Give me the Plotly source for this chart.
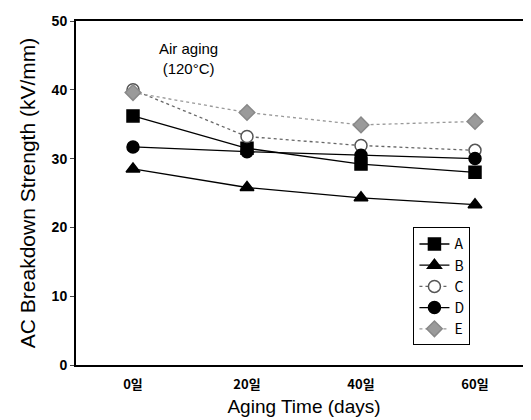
import plotly.graph_objects as go

categories = ["0일", "20일", "40일", "60일"]
series_A = [36.2, 31.5, 29.2, 28.0]
series_B = [28.5, 25.8, 24.3, 23.3]
series_C = [40.0, 33.2, 31.9, 31.2]
series_D = [31.7, 31.0, 30.5, 30.0]
series_E = [39.6, 36.7, 34.9, 35.4]
y_ticks = [0, 10, 20, 30, 40, 50]

fig = go.Figure()
def add(name, y, symbol, mcolor, lcolor, dash, lw, mfill=None, msize=12):
    fig.add_trace(go.Scatter(
        x=categories, y=y, name=name, mode="lines+markers",
        line=dict(color=lcolor, width=lw, dash=dash),
        marker=dict(symbol=symbol, size=msize, color=mfill if mfill else mcolor,
                    line=dict(color=mcolor, width=1.5)),
    ))

add("A", series_A, "square", "black", "black", "solid", 1.3)
add("B", series_B, "triangle-up", "black", "black", "solid", 1.3)
add("C", series_C, "circle", "#555555", "#666666", "dot", 1.3, mfill="white")
add("D", series_D, "circle", "black", "black", "solid", 1.3)
add("E", series_E, "diamond", "#888888", "#999999", "dot", 1.3, mfill="#9a9a9a")

fig.add_annotation(x=0.49, y=44.6, xref="x", yref="y", text="Air aging<br>(120°C)",
                   showarrow=False, font=dict(family="Liberation Sans Narrow, Arial", size=15, color="black"))

fig.update_layout(
    width=531, height=420,
    margin=dict(l=68, r=5, t=12, b=63),
    paper_bgcolor="white", plot_bgcolor="white",
    font=dict(family="Liberation Sans Narrow, Noto Sans CJK KR, Arial", color="black"),
    legend=dict(x=0.74, y=0.40, xanchor="left", yanchor="top",
                bordercolor="black", borderwidth=1, bgcolor="white",
                font=dict(size=14), tracegroupgap=0, itemwidth=30),
    showlegend=True,
)
fig.update_xaxes(
    type="category", range=[-0.5, 3.5],
    showline=True, linecolor="black", linewidth=2, mirror=True,
    ticks="", showgrid=False, ticklabelstandoff=6,
    tickfont=dict(family="Noto Sans CJK KR", size=13, color="black", weight="bold"),
    title=dict(text="Aging Time (days)", font=dict(size=19, family="Liberation Sans Narrow, Arial"), standoff=8),
)
fig.update_yaxes(
    range=[0, 50], tickvals=y_ticks,
    showline=True, linecolor="black", linewidth=2, mirror=True,
    ticks="outside", ticklen=4, tickwidth=1, showgrid=False, zeroline=False,
    tickfont=dict(family="Liberation Sans Narrow, Arial", size=14, color="black", weight="bold"),
    title=dict(text="AC Breakdown Strength (kV/mm)", font=dict(size=21, family="Liberation Sans, Arial"), standoff=10),
)
fig.write_html("out.html")
